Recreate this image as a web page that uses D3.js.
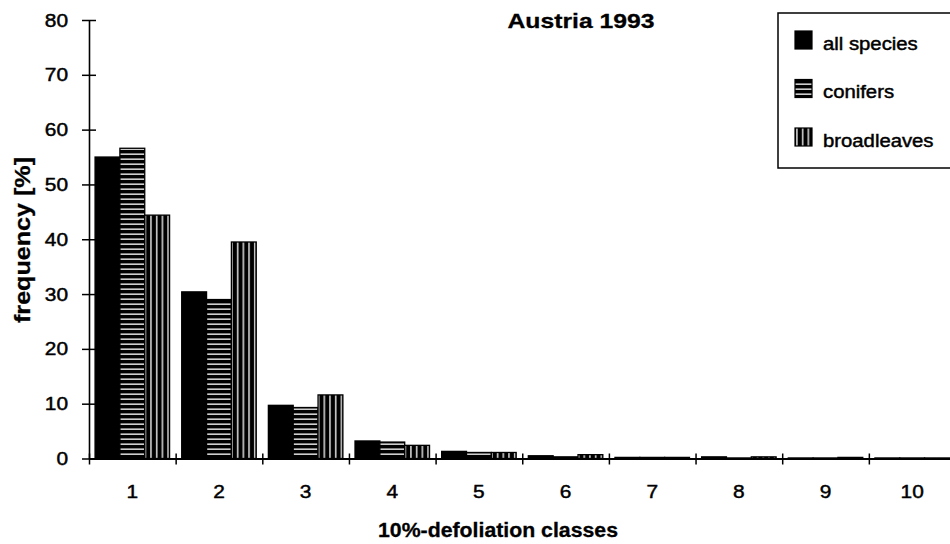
<!DOCTYPE html>
<html>
<head>
<meta charset="utf-8">
<script src="https://cdn.jsdelivr.net/npm/d3@7"></script>
<style>
  html, body { margin: 0; padding: 0; background: #fff; }
  svg { display: block; }
  text { font-family: "Liberation Sans", Arial, Helvetica, sans-serif; fill: #000; }
  text.reg { stroke: #000; stroke-width: 0.45; }
  text.bld { stroke: #000; stroke-width: 0.3; }
</style>
</head>
<body>
<svg id="chart" width="950" height="544"></svg>
<script>
// Defoliation class frequencies, Austria 1993
const classes = ["1", "2", "3", "4", "5", "6", "7", "8", "9", "10"];
const seriesNames = ["all species", "conifers", "broadleaves"];
const allSpecies  = [55.0, 30.4, 9.7, 3.2, 1.3, 0.5, 0.2, 0.3, 0.1, 0.1];
const conifers    = [56.6, 29.0, 9.3, 3.0, 1.1, 0.3, 0.2, 0.1, 0.1, 0.1];
const broadleaves = [44.4, 39.5, 11.6, 2.4, 1.1, 0.7, 0.2, 0.3, 0.2, 0.1];
const yTicks = [0, 10, 20, 30, 40, 50, 60, 70, 80];
const titleText = "Austria 1993";
const xTitle = "10%-defoliation classes";
const yTitle = "frequency [%]";

const seriesValues = [allSpecies, conifers, broadleaves];
const fills = ["#000", "url(#hstripe)", "url(#vstripe)"];

const svg = d3.select("#chart");
const stretch = 1.16;

// stripe patterns
const defs = svg.append("defs");
const hp = defs.append("pattern").attr("id", "hstripe")
  .attr("patternUnits", "userSpaceOnUse").attr("width", 10).attr("height", 5);
hp.append("rect").attr("width", 10).attr("height", 5).attr("fill", "#000");
hp.append("rect").attr("y", 3.5).attr("width", 10).attr("height", 1.3).attr("fill", "#fff");

const vp = defs.append("pattern").attr("id", "vstripe")
  .attr("patternUnits", "userSpaceOnUse").attr("width", 5.7).attr("height", 10);
vp.append("rect").attr("width", 5.7).attr("height", 10).attr("fill", "#000");
vp.append("rect").attr("x", 4.0).attr("width", 1.3).attr("height", 10).attr("fill", "#fff");

// scales
const x0 = d3.scaleBand().domain(classes).range([89, 955.5])
  .paddingInner(0.14).paddingOuter(0.07);
const x1 = d3.scaleBand().domain(seriesNames).range([0, x0.bandwidth()]);
const xEdge = d3.scaleLinear().domain([0, classes.length]).range([89, 955.5]);
const y = d3.scaleLinear().domain([0, 80]).range([458.5, 20]);

// horizontally widened text helper
function putText(g, str, x, yy, opts) {
  return g.append("text").attr("class", "reg")
    .attr("transform", `translate(${x},${yy}) scale(${opts.sx || stretch},1)`)
    .attr("text-anchor", opts.anchor || "start")
    .attr("font-size", opts.size)
    .text(str);
}

// bars
const groups = svg.append("g").selectAll("g").data(classes).join("g")
  .attr("transform", d => `translate(${x0(d)},0)`);
groups.selectAll("rect")
  .data((d, i) => seriesNames.map((s, k) => ({ s, k, v: seriesValues[k][i] })))
  .join("rect")
  .attr("x", d => x1(d.s))
  .attr("width", x1.bandwidth())
  .attr("y", d => y(d.v))
  .attr("height", d => y(0) - y(d.v))
  .attr("fill", d => fills[d.k])
  .attr("stroke", "#000")
  .attr("stroke-width", 1.3);

// y axis
const yAxis = svg.append("g").attr("transform", "translate(89,0)")
  .call(d3.axisLeft(y).tickValues(yTicks).tickSize(7).tickSizeOuter(0).tickFormat(""));
yAxis.select(".domain").attr("stroke-width", 1.6);
yAxis.selectAll(".tick line").attr("x1", -7).attr("x2", 7).attr("stroke-width", 1.5);
yTicks.forEach(t => putText(svg, String(t), 68, y(t) + 6.5, { size: 18, anchor: "end" }));

// x axis: boundary ticks
const xAxis = svg.append("g").attr("transform", `translate(0,${y(0)})`)
  .call(d3.axisBottom(xEdge).tickValues(d3.range(0, classes.length + 1))
    .tickSize(5).tickSizeOuter(0).tickFormat(""));
xAxis.select(".domain").attr("stroke-width", 1.8);
xAxis.selectAll(".tick line").attr("y1", -5).attr("y2", 6).attr("stroke-width", 1.5);

// x category labels
classes.forEach(c => putText(svg, c, x0(c) + x0.bandwidth() / 2, 498, { size: 18, anchor: "middle" }));

// titles
svg.append("text").attr("class", "bld").attr("x", 581).attr("y", 28)
  .attr("text-anchor", "middle").attr("font-size", 21).attr("font-weight", "bold")
  .attr("textLength", 147).attr("lengthAdjust", "spacingAndGlyphs").text(titleText);
svg.append("text").attr("class", "bld").attr("x", 498).attr("y", 537)
  .attr("text-anchor", "middle").attr("font-size", 20).attr("font-weight", "bold")
  .attr("textLength", 240).attr("lengthAdjust", "spacingAndGlyphs").text(xTitle);
svg.append("text").attr("class", "bld").attr("transform", "translate(30,240) rotate(-90)")
  .attr("text-anchor", "middle").attr("font-size", 22).attr("font-weight", "bold")
  .attr("textLength", 166).attr("lengthAdjust", "spacingAndGlyphs").text(yTitle);

// legend
const legend = svg.append("g");
legend.append("rect").attr("x", 778).attr("y", 13).attr("width", 200).attr("height", 155)
  .attr("fill", "#fff").attr("stroke", "#000").attr("stroke-width", 1.5);
seriesNames.forEach((s, k) => {
  const top = 31 + k * 48.5;
  legend.append("rect").attr("x", 795).attr("y", top).attr("width", 17).attr("height", 18)
    .attr("fill", fills[k]).attr("stroke", "#000").attr("stroke-width", 1.2);
  putText(legend, s, 823, top + 18.5, { size: 17.5 });
});
</script>
</body>
</html>
